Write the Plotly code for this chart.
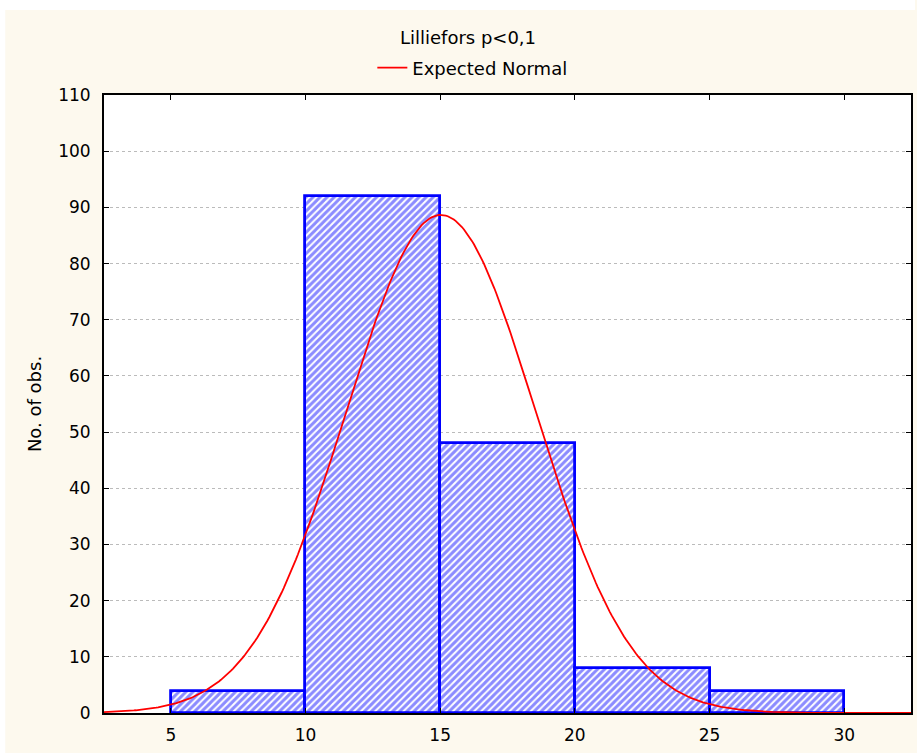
import numpy as np
import plotly.graph_objects as go

# Data
bin_edges = [5, 10, 15, 20, 25, 30]
counts = [4, 92, 48, 8, 4]
x_ticks = [5, 10, 15, 20, 25, 30]
y_ticks = [0, 10, 20, 30, 40, 50, 60, 70, 80, 90, 100, 110]
# Expected normal parameters
n_obs = sum(counts)
bin_width = 5
mu = 15.03
sigma = 3.51

W, H = 917, 753
L, R, T, B = 104, 4, 95, 40
pw, ph = W - L - R, H - T - B

mids = [(bin_edges[i] + bin_edges[i + 1]) / 2 for i in range(len(counts))]
xs = np.linspace(2.5, 32.5, 400)
ys = n_obs * bin_width / (sigma * np.sqrt(2 * np.pi)) * np.exp(-0.5 * ((xs - mu) / sigma) ** 2)

fig = go.Figure()
fig.add_trace(go.Bar(
    x=mids, y=counts, width=bin_width, showlegend=False,
    marker=dict(color="white", line=dict(color="#0000FF", width=2.8),
                pattern=dict(shape="/", fgcolor="#1818FF", bgcolor="white",
                             size=5, solidity=0.6, fillmode="overlay")),
    hoverinfo="x+y",
))
fig.add_trace(go.Scatter(
    x=xs, y=ys, mode="lines", name="Expected Normal",
    line=dict(color="#FF0000", width=1.8),
))

cream = "#FDF9EE"
wide = "DejaVu Sans, Verdana, sans-serif"
fig.update_layout(
    width=W, height=H,
    margin=dict(l=L, r=R, t=T, b=B),
    paper_bgcolor=cream, plot_bgcolor="white",
    font=dict(family=wide, size=17, color="black"),
    title=dict(text="Lilliefors p<0,1", x=468 / W, xanchor="center",
               y=1 - 38 / H, yanchor="middle", font=dict(family=wide, size=18)),
    legend=dict(orientation="h", x=(373 - L) / pw, xanchor="left",
                y=1 + (95 - 68) / ph, yanchor="middle",
                bgcolor="rgba(0,0,0,0)", font=dict(family=wide, size=18)),
    bargap=0,
    xaxis=dict(range=[2.52, 32.48], tickvals=x_ticks, ticktext=[str(v) for v in x_ticks],
               showgrid=False, zeroline=False, showline=True, linecolor="black",
               linewidth=2, mirror="ticks", ticks="inside", ticklen=5,
               tickcolor="black", tickfont=dict(size=17), ticklabelstandoff=6),
    yaxis=dict(range=[0, 110], tickvals=y_ticks, ticktext=[str(v) for v in y_ticks],
               showgrid=True, gridcolor="#BBBBBB", griddash="dot", gridwidth=1,
               zeroline=False, showline=True, linecolor="black", linewidth=2,
               mirror="ticks", ticks="inside", ticklen=5, tickcolor="black",
               tickfont=dict(size=17), ticklabelstandoff=8,
               title=dict(text="No. of obs.", font=dict(family=wide, size=18), standoff=12)),
    shapes=[
        dict(type="rect", xref="paper", yref="paper", layer="above",
             x0=-L / pw, x1=1 + R / pw, y0=1 + (T - 10) / ph, y1=1 + T / ph + 0.01,
             fillcolor="white", line=dict(width=0)),
        dict(type="rect", xref="paper", yref="paper", layer="above",
             x0=-L / pw - 0.01, x1=-(L - 5) / pw, y0=-B / ph - 0.01, y1=1 + T / ph + 0.01,
             fillcolor="white", line=dict(width=0)),
    ],
)

fig.write_html("out.html")
